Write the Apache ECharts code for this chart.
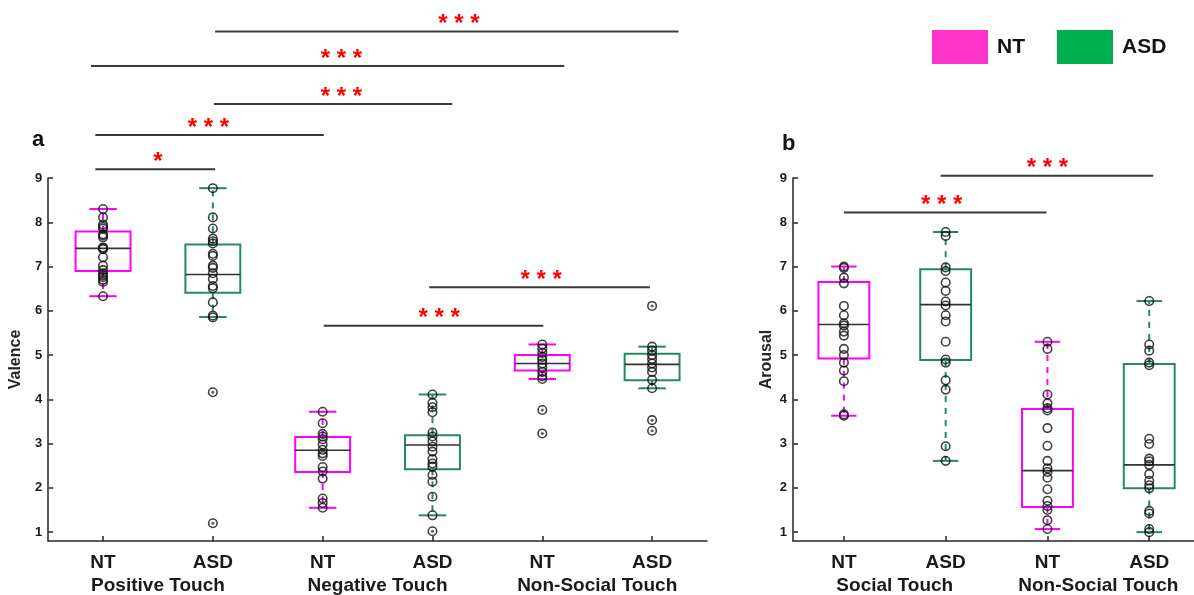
<!DOCTYPE html>
<html><head><meta charset="utf-8">
<script src="https://cdn.jsdelivr.net/npm/echarts@6/dist/echarts.min.js"></script>
<style>html,body{margin:0;padding:0;background:#fff}#c{width:1194px;height:595px}</style>
</head><body><div id="c"></div>
<script>
// ---------- data ----------
const catsA = ['NT','ASD','NT','ASD','NT','ASD'];
const groupsA = ['Positive Touch','Negative Touch','Non-Social Touch'];
const catsB = ['NT','ASD','NT','ASD'];
const groupsB = ['Social Touch','Non-Social Touch'];
const yTicks = [1,2,3,4,5,6,7,8,9];

// box stats: [lower whisker, Q1, median, Q3, upper whisker]
const boxA = [
  [6.33,6.90,7.41,7.79,8.30],
  [5.86,6.41,6.82,7.50,8.77],
  [1.55,2.36,2.85,3.15,3.72],
  [1.38,2.42,2.97,3.19,4.11],
  [4.46,4.65,4.81,5.00,5.24],
  [4.25,4.43,4.79,5.03,5.19]
];
const boxB = [
  [3.63,4.92,5.69,6.65,7.00],
  [2.61,4.89,6.14,6.94,7.78],
  [1.07,1.57,2.39,3.78,5.30],
  [1.00,1.99,2.52,4.80,6.22]
];
// individual ratings per box
const ptsA = [
  [8.30,8.11,7.95,7.90,7.86,7.73,7.70,7.66,7.43,7.42,7.39,7.21,7.02,6.92,6.85,6.80,6.76,6.70,6.65,6.33],
  [8.77,8.11,7.86,7.63,7.57,7.52,7.29,7.24,7.02,6.97,6.85,6.72,6.56,6.51,6.19,5.89,5.85],
  [3.72,3.46,3.22,3.16,3.10,2.98,2.86,2.78,2.72,2.47,2.37,2.21,1.76,1.66,1.55],
  [4.11,3.92,3.82,3.71,3.25,3.16,3.05,2.93,2.82,2.65,2.55,2.48,2.29,2.14,1.80,1.38],
  [5.24,5.15,5.05,4.96,4.89,4.81,4.72,4.62,4.52,4.46],
  [5.19,5.10,5.00,4.91,4.81,4.72,4.62,4.44,4.25]
];
const outA = [[],[4.16,1.20],[],[1.02],[3.76,3.23],[6.11,3.53,3.29]];
const ptsB = [
  [7.00,6.97,6.75,6.62,6.11,5.90,5.72,5.67,5.53,5.44,5.14,5.00,4.83,4.65,4.41,3.66,3.63],
  [7.78,7.69,6.98,6.90,6.64,6.45,6.21,6.12,5.90,5.76,5.30,4.90,4.83,4.43,4.22,2.94,2.61],
  [5.30,5.14,4.11,3.91,3.80,3.75,3.35,2.95,2.61,2.44,2.36,2.23,1.97,1.71,1.59,1.50,1.27,1.07],
  [6.22,5.24,5.10,4.83,4.77,3.11,2.99,2.66,2.60,2.52,2.31,2.16,2.06,1.99,1.48,1.42,1.07,1.00]
];
const outB = [[],[],[],[]];
// significance bars: [from x, to x, y level, star centre x]
const sigA = [
  [1.02,5.24,12.31,3.24],
  [-0.11,4.20,11.53,2.17],
  [1.01,3.18,10.67,2.17],
  [-0.07,2.01,9.97,0.96],
  [-0.07,1.02,9.20,0.50],
  [2.01,4.01,5.66,3.06],
  [2.97,4.98,6.53,3.99]
];
const starsA = ['* * *','* * *','* * *','* * *','*','* * *','* * *'];
const sigB = [
  [0.00,1.99,8.22,0.96],
  [0.95,3.04,9.05,2.00]
];
const starsB = ['* * *','* * *'];

// ---------- style ----------
const FONT = 'Liberation Sans, Arial, sans-serif';
const AX = '#262626';
const STROKE = {NT:'#FF00FF', ASD:'#238B5E'};
const FILL = {NT:'#FF33CC', ASD:'#00B050'};

function boxRender(color){
  return function(params, api){
    const x = api.value(0);
    const p = v => api.coord([x, v]);
    const lo=p(api.value(1)), q1=p(api.value(2)), md=p(api.value(3)), q3=p(api.value(4)), hi=p(api.value(5));
    const w = api.size([0.5,0])[0], cw = w/2, cx = md[0];
    const ln = (x1,y1,x2,y2,st)=>({type:'line',shape:{x1,y1,x2,y2},style:st});
    return {type:'group', children:[
      ln(cx,q3[1],cx,hi[1],{stroke:color,lineWidth:2,lineDash:[6,6]}),
      ln(cx,q1[1],cx,lo[1],{stroke:color,lineWidth:2,lineDash:[6,6]}),
      ln(cx-cw/2,hi[1],cx+cw/2,hi[1],{stroke:color,lineWidth:2}),
      ln(cx-cw/2,lo[1],cx+cw/2,lo[1],{stroke:color,lineWidth:2}),
      {type:'rect',shape:{x:cx-w/2,y:q3[1],width:w,height:q1[1]-q3[1]},style:{fill:'none',stroke:color,lineWidth:2}},
      ln(cx-w/2,md[1],cx+w/2,md[1],{stroke:'#333',lineWidth:1.6})
    ]};
  };
}
function sigRender(stars){
  return function(params, api){
    const y = api.value(2);
    const a = api.coord([api.value(0), y]);
    const b = api.coord([api.value(1), y]);
    const l = api.coord([api.value(3), y]);
    return {type:'group', children:[
      {type:'line',shape:{x1:a[0],y1:a[1],x2:b[0],y2:b[1]},style:{stroke:'#3a3a3a',lineWidth:2}},
      {type:'text',x:l[0],y:l[1]-7,style:{text:stars[params.dataIndex],fill:'#FF0000',font:'bold 24px '+FONT,align:'center',verticalAlign:'middle'}}
    ]};
  };
}

function panelSeries(g, boxes, pts, outs, sig, stars){
  const s = [];
  ['NT','ASD'].forEach((name,k)=>{
    s.push({type:'custom', name, xAxisIndex:g*2, yAxisIndex:g, z:2,
      itemStyle:{color:FILL[name]},
      renderItem: boxRender(STROKE[name]),
      encode:{x:0,y:[1,2,3,4,5]},
      data: boxes.map((b,i)=>[i,...b]).filter((d,i)=>i%2===k)});
  });
  const pd = [], od = [];
  pts.forEach((arr,i)=>arr.forEach(v=>pd.push([i,v])));
  outs.forEach((arr,i)=>arr.forEach(v=>od.push([i,v])));
  s.push({type:'scatter', xAxisIndex:g*2, yAxisIndex:g, z:4, symbol:'circle', symbolSize:8.5,
    itemStyle:{color:'rgba(0,0,0,0)', borderColor:'#111', borderWidth:1.6}, data: pd.concat(od), silent:true});
  s.push({type:'scatter', xAxisIndex:g*2, yAxisIndex:g, z:5, symbol:'circle', symbolSize:3,
    itemStyle:{color:'#333'}, data: od, silent:true});
  s.push({type:'custom', xAxisIndex:g*2, yAxisIndex:g, z:3, clip:false,
    renderItem: sigRender(stars), encode:{x:[0,1],y:2}, data: sig, silent:true});
  return s;
}

function xAxes(g, max, cats, groups, groupVals){
  const idx = cats.map((c,i)=>i);
  return [
    {gridIndex:g, type:'value', min:-0.5, max, splitLine:{show:false},
      axisLine:{onZero:false, lineStyle:{color:AX,width:1.5}},
      axisTick:{inside:true,length:5,customValues:idx,lineStyle:{color:AX,width:1.5}},
      axisLabel:{customValues:idx, formatter:(v)=>cats[Math.round(v)], margin:12,
        fontFamily:FONT,fontSize:19,fontWeight:'bold',color:'#1a1a1a'}},
    {gridIndex:g, type:'value', min:-0.5, max, position:'bottom', splitLine:{show:false},
      axisLine:{show:false}, axisTick:{show:false},
      axisLabel:{customValues:groupVals, formatter:(v)=>groups[Math.round((v-0.5)/2)], margin:35,
        fontFamily:FONT,fontSize:19,fontWeight:'bold',color:'#1a1a1a'}}
  ];
}
function yAxis(g, name){
  return {gridIndex:g, type:'value', min:0.8, max:9, name, nameLocation:'middle', nameGap:18,
    nameTextStyle:{fontFamily:FONT,fontSize:16,fontWeight:'bold',color:AX},
    splitLine:{show:false},
    axisLine:{show:true,onZero:false,lineStyle:{color:AX,width:1.5}},
    axisTick:{show:true,inside:true,length:5,customValues:yTicks,lineStyle:{color:AX,width:1.5}},
    axisLabel:{customValues:yTicks,margin:6,fontFamily:FONT,fontSize:13,fontWeight:'bold',color:'#1a1a1a'}};
}

const chart = echarts.init(document.getElementById('c'), null, {renderer:'canvas'});
chart.setOption({
  animation:false,
  backgroundColor:'#fff',
  title:[
    {text:'a', left:27, top:124, textStyle:{fontFamily:FONT,fontSize:22,fontWeight:'bold',color:'#111'}},
    {text:'b', left:777, top:128, textStyle:{fontFamily:FONT,fontSize:22,fontWeight:'bold',color:'#111'}}
  ],
  legend:{left:927, top:25, itemWidth:56, itemHeight:34, itemGap:32, icon:'rect',
    textStyle:{fontFamily:FONT,fontSize:21,fontWeight:'bold',color:'#111',padding:[0,0,0,4]},
    data:[{name:'NT',itemStyle:{color:FILL.NT}},{name:'ASD',itemStyle:{color:FILL.ASD}}]},
  grid:[
    {left:45, top:178, width:662, height:363},
    {left:793, top:178, width:401, height:363}
  ],
  xAxis: xAxes(0, 5.5, catsA, groupsA, [0.5,2.5,4.5]).concat(xAxes(1, 3.44, catsB, groupsB, [0.5,2.5])),
  yAxis: [yAxis(0,'Valence'), yAxis(1,'Arousal')],
  series: panelSeries(0, boxA, ptsA, outA, sigA, starsA).concat(panelSeries(1, boxB, ptsB, outB, sigB, starsB))
});
</script></body></html>
